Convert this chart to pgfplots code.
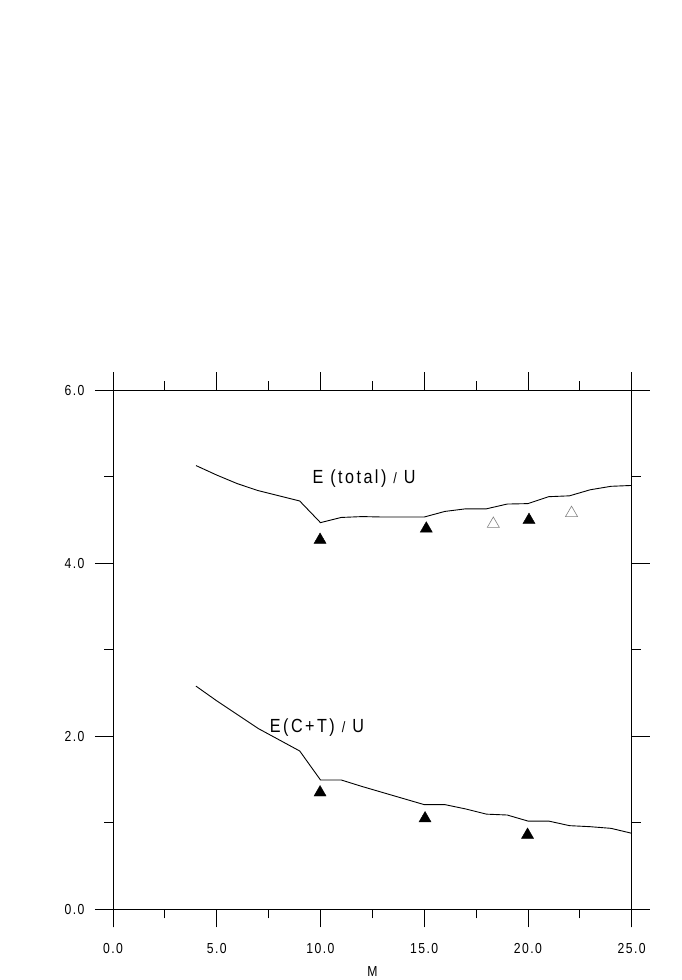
\documentclass[border=0pt]{standalone}
\usepackage{fontspec}
\setmainfont{Liberation Sans}[FakeStretch=0.84, LetterSpace=10]
\newfontfamily\labfont{Liberation Sans}[FakeStretch=0.85, LetterSpace=13]
\usepackage{pgfplots}
\pgfplotsset{compat=1.18}
\begin{document}
\begin{tikzpicture}[x=1pt,y=1pt]
\useasboundingbox (0,0) rectangle (681,980);
\begin{axis}[
  at={(113pt,70.7pt)}, anchor=south west,
  width=518.7pt, height=519pt, scale only axis,
  xmin=0, xmax=25, ymin=0, ymax=6,
  clip=false,
  xtick={0,5,10,15,20,25}, minor xtick={2.5,7.5,12.5,17.5,22.5},
  ytick={0,2,4,6}, minor ytick={1,3,5},
  tick align=outside, major tick length=18pt, minor tick length=9pt,
  tick style={black, line width=0.9pt},
  axis line style={line width=0.9pt},
  /pgf/number format/.cd, fixed, fixed zerofill, precision=1, assume math mode=true,
  /pgfplots/.cd,
  tick label style={font=\fontsize{14.5}{17}\selectfont},
  xticklabel style={yshift=-13pt},
  yticklabel style={xshift=-7pt},
  xlabel={M},
  xlabel style={font=\fontsize{14.5}{17}\selectfont, yshift=-6pt},
]
\addplot[black, line width=0.9pt] coordinates {
 (4,5.13) (5,5.02) (6,4.92) (7,4.84) (8,4.78) (9,4.72) (10,4.47) (11,4.53)
 (12,4.54) (13,4.535) (14,4.535) (15,4.535) (16,4.60) (17,4.63) (18,4.63)
 (19,4.685) (20,4.69) (21,4.77) (22,4.78) (23,4.85) (24,4.89) (25,4.90)};
\addplot[black, line width=0.9pt] coordinates {
 (4,2.58) (5,2.41) (6,2.25) (7,2.09) (8,1.96) (9,1.83) (10,1.495) (11,1.495)
 (12,1.42) (13,1.35) (14,1.28) (15,1.21) (16,1.21) (17,1.16) (18,1.10)
 (19,1.09) (20,1.02) (21,1.02) (22,0.967) (23,0.955) (24,0.936) (25,0.879)};
\addplot[only marks, mark=triangle*, mark size=7pt, black] coordinates {
 (9.98,4.27) (15.1,4.40) (20.05,4.50)
 (9.98,1.35) (15.04,1.05) (19.98,0.86)};
\addplot[only marks, mark=triangle, mark size=7pt, gray, mark options={line width=0.6pt}] coordinates {
 (18.33,4.455) (22.1,4.58)};
\draw[line width=0.9pt] (axis cs:-0.867,0) -- (axis cs:25.867,0);
\draw[line width=0.9pt] (axis cs:-0.867,6) -- (axis cs:25.867,6);
\draw[line width=0.9pt] (axis cs:0,-0.208) -- (axis cs:0,6.208);
\draw[line width=0.9pt] (axis cs:25,-0.208) -- (axis cs:25,6.208);
\node[font=\labfont\fontsize{19}{22}\selectfont] at (axis cs:12.1,4.98) {E (total) {\fontsize{15}{18}\selectfont/} U};
\node[font=\labfont\fontsize{19}{22}\selectfont] at (axis cs:9.83,2.10) {E(C+T) {\fontsize{15}{18}\selectfont/} U};
\end{axis}
\end{tikzpicture}
\end{document}
